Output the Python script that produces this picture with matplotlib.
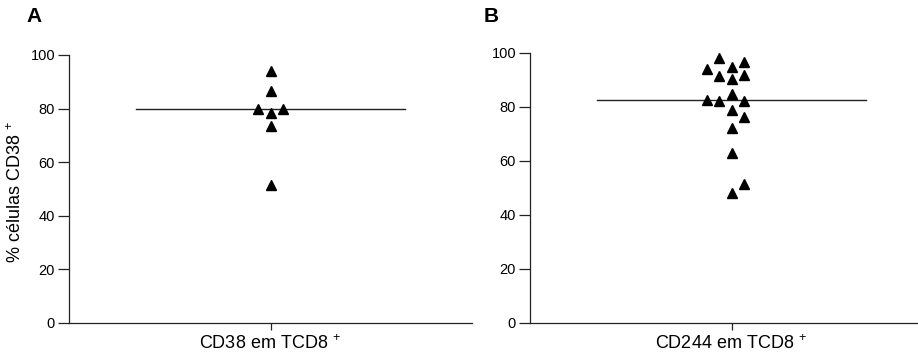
"""CD38 and CD244 expression on CD8+ T cells: scatter with median line."""
import numpy as np
import matplotlib
matplotlib.use("Agg")
import matplotlib.pyplot as plt

plt.rcParams["font.family"] = ["Liberation Sans", "DejaVu Sans"]
plt.rcParams["mathtext.fontset"] = "custom"
plt.rcParams["mathtext.rm"] = "Liberation Sans"
plt.rcParams["mathtext.it"] = "Liberation Sans:italic"
plt.rcParams["mathtext.bf"] = "Liberation Sans:bold"

# ── Data (% CD38+ / CD244+ cells) ─────────────────────────────────────────────
cd38_values = [94.1, 86.4, 79.7, 79.7, 78.2, 73.5, 51.4]
cd38_slots  = [0, 0, -1, 1, 0, 0, 0]   # horizontal column for overlapping points

cd244_values = [98.1, 93.8, 94.7, 96.5, 91.4, 90.2, 91.7, 84.7, 82.5,
                82.1, 82.1, 78.9, 76.2, 72.2, 63.0, 51.4, 48.1]
cd244_slots  = [-1, -2, 0, 1, -1, 0, 1, 0, -2,
                -1, 1, 0, 1, 0, 0, 1, 0]

labels = ["CD38 em TCD8$^{\\ +}$", "CD244 em TCD8$^{\\ +}$"]
panels = ["A", "B"]
y_ticks = [0, 20, 40, 60, 80, 100]

SLOT_W = 0.09
INK = "#222222"

fig = plt.figure(figsize=(9.18, 3.54), dpi=100)
fig.patch.set_facecolor("white")

ax_a = fig.add_axes([69 / 918, 1 - 322.7 / 354, 403 / 918, (322.7 - 55) / 354])
ax_b = fig.add_axes([530 / 918, 1 - 322.7 / 354, 403 / 918, (322.7 - 52.7) / 354])

for ax, vals, slots, lab in ((ax_a, cd38_values, cd38_slots, labels[0]),
                             (ax_b, cd244_values, cd244_slots, labels[1])):
    x = np.array(slots) * SLOT_W
    ax.plot(x, vals, linestyle="none", marker="^", markersize=7,
            color="black", clip_on=False, zorder=3)
    med = np.median(vals)
    ax.plot([-1, 1], [med, med], color=INK, lw=1.0, zorder=2)

    ax.set_xlim(-1.5, 1.5)
    ax.set_ylim(0, 100)
    ax.set_yticks(y_ticks)
    ax.set_xticks([0])
    ax.set_xticklabels([lab], fontsize=13)
    ax.tick_params(axis="y", length=8, width=0.9, pad=2, labelsize=10.5, color=INK)
    ax.tick_params(axis="x", length=5, width=0.9, pad=3, color=INK)
    for side in ("top", "right"):
        ax.spines[side].set_visible(False)
    for side in ("left", "bottom"):
        ax.spines[side].set_linewidth(0.9)
        ax.spines[side].set_color(INK)

ax_a.set_ylabel("% células CD38$^{\\ +}$", fontsize=13)
ax_a.yaxis.set_label_coords(-0.108, 0.49)

# Panel letters
fig.text(34 / 918, 1 - 17 / 354, panels[0], fontsize=15, fontweight="bold",
         ha="center", va="center")
fig.text(491 / 918, 1 - 17 / 354, panels[1], fontsize=15, fontweight="bold",
         ha="center", va="center")

fig.savefig("out.png", dpi=100, facecolor="white")
